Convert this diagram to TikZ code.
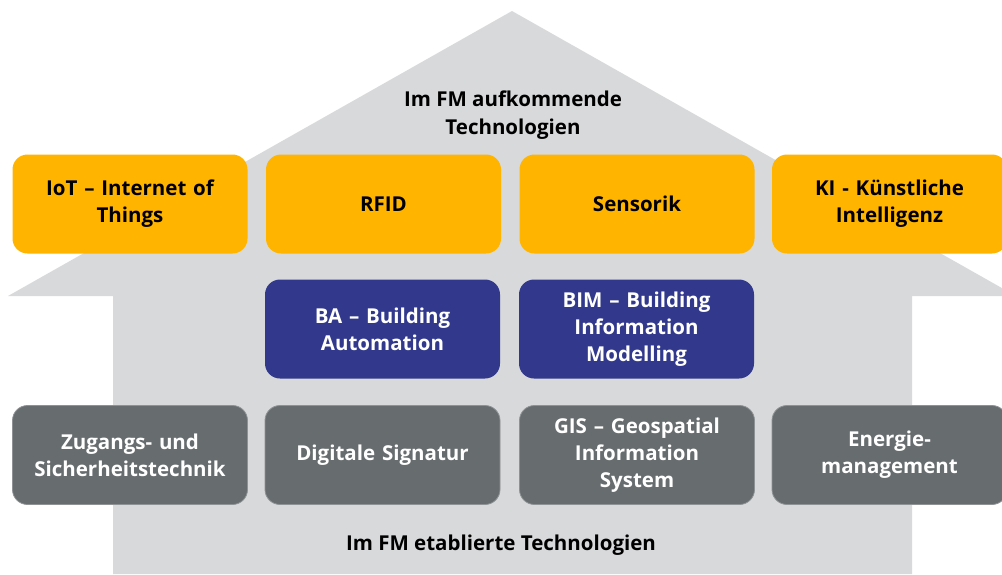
\documentclass[tikz,border=0pt]{standalone}
\usepackage{fontspec}
\setmainfont{Open Sans}
\definecolor{housegrey}{HTML}{D8D9DB}
\definecolor{techorange}{HTML}{FFB400}
\definecolor{techblue}{HTML}{32398C}
\definecolor{techgrey}{HTML}{676C6E}
\definecolor{techedge}{HTML}{8E9294}
\tikzset{
	techbox/.style={rounded corners=15pt, minimum width=235pt, minimum height=99pt,
		text width=225pt, align=center, font=\fontsize{20.5}{27}\selectfont\bfseries, inner sep=0pt},
	newtech/.style={techbox, fill=techorange, text=black},
	coretech/.style={techbox, fill=techblue, text=white},
	oldtech/.style={techbox, fill=techgrey, draw=techedge, line width=.8pt, text=white},
	caption/.style={align=center, font=\fontsize{20.5}{28}\selectfont\bfseries}
}
\begin{document}
\begin{tikzpicture}[x=1pt,y=-1pt]
		\useasboundingbox (0,0) rectangle (1002,574);
		\clip (0,0) rectangle (1002,574);
		% house
		\fill [housegrey] (113,574) -- (113,296) -- (8,296) -- (512,11) -- (1016,296) -- (912,296) -- (912,574) -- cycle;
		\node [caption] (roof) at (513,115) {Im FM aufkommende\\Technologien};
		
		% emerging technologies
		\node [newtech] (iot) at (130,204) {IoT -- Internet of\\Things};
		\node [newtech] (rfid) at (383.5,204) {RFID};
		\node [newtech] (sens) at (637,204) {Sensorik};
		\node [newtech] (ki) at (889.5,204) {KI - Künstliche\\Intelligenz};
		
		\node [coretech] (ba) at (382.5,329) {BA -- Building\\Automation};
		\node [coretech] (bim) at (636.5,329) {BIM -- Building\\Information\\Modelling};
		
		% established technologies
		\node [oldtech] (zug) at (130,455) {Zugangs- und\\Sicherheitstechnik};
		\node [oldtech] (sig) at (382.5,455) {Digitale Signatur};
		\node [oldtech] (gis) at (637,455) {GIS -- Geospatial\\Information\\System};
		\node [oldtech] (energy) at (889.5,455) {Energie-\\management};
		\node [caption] (base) at (501,545) {Im FM etablierte Technologien};
\end{tikzpicture}
\end{document}
